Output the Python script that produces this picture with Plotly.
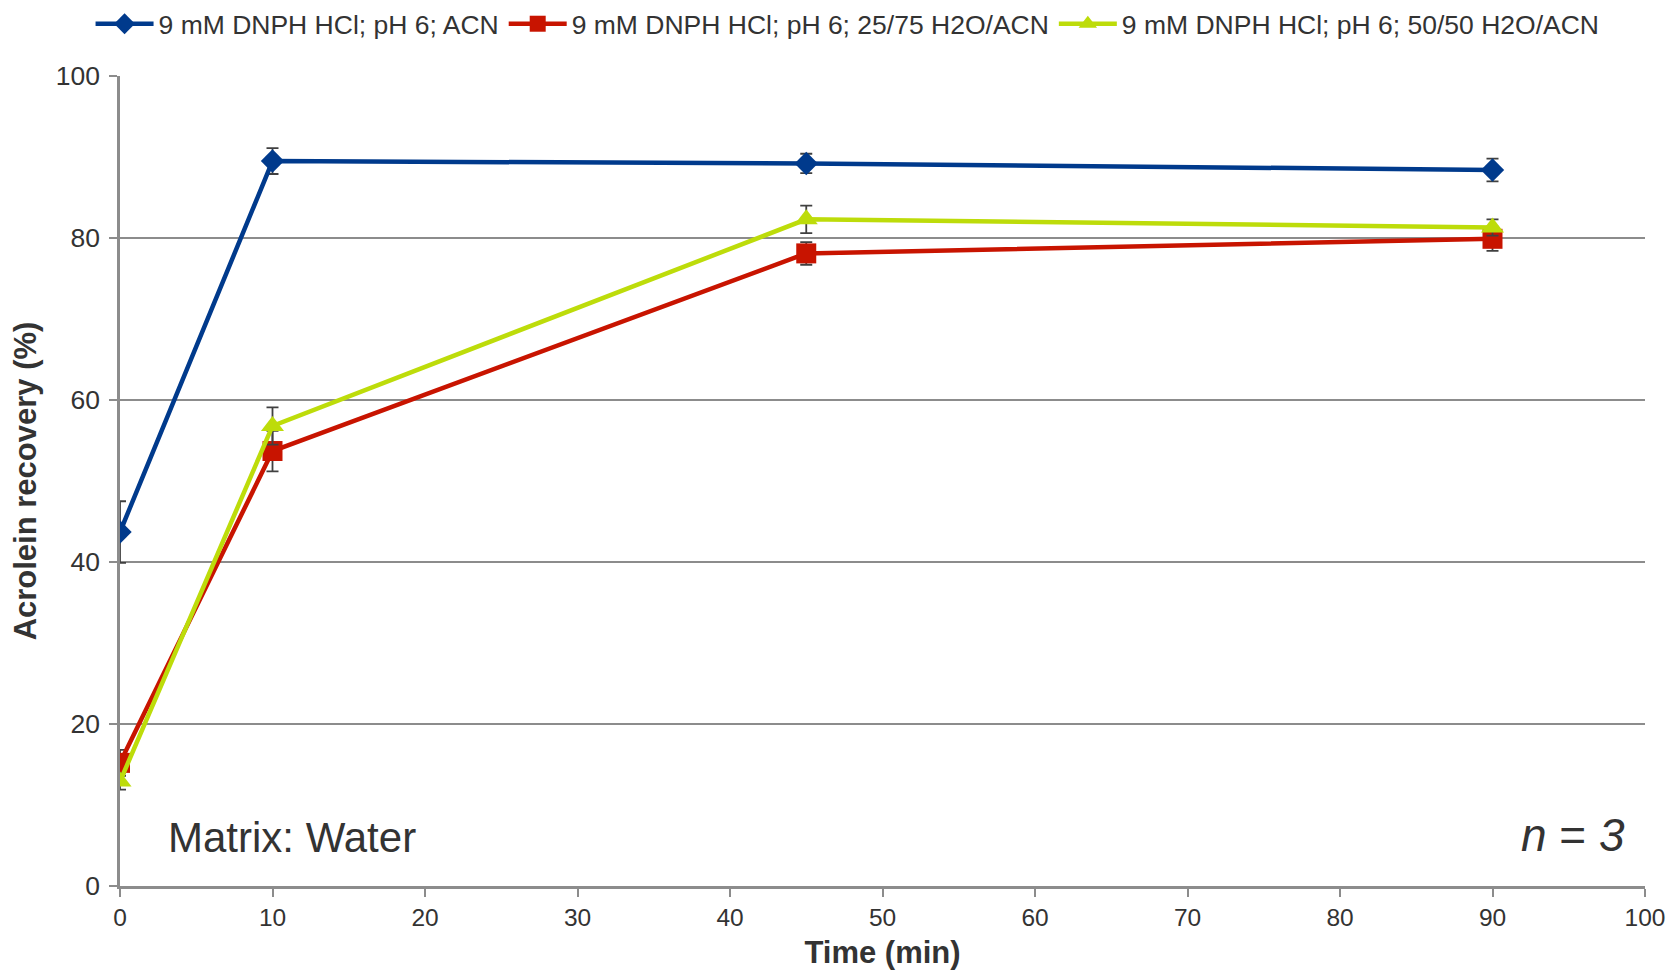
import plotly.graph_objects as go

time_min = [0, 10, 45, 90]
names = ["9 mM DNPH HCl; pH 6; ACN",
         "9 mM DNPH HCl; pH 6; 25/75 H2O/ACN",
         "9 mM DNPH HCl; pH 6; 50/50 H2O/ACN"]
acn = [43.7, 89.5, 89.2, 88.4]
acn_err = [3.8, 1.6, 1.2, 1.4]
h2o_25 = [15.2, 53.7, 78.1, 79.9]
h2o_25_err = [1.6, 2.5, 1.4, 1.5]
h2o_50 = [12.9, 56.8, 82.3, 81.3]
h2o_50_err = [1.0, 2.3, 1.7, 1.0]

colors = ["#003A8C", "#C81400", "#BDDC0A"]
symbols = ["diamond", "square", "triangle-up"]
sizes = [18, 20, 20]
series = [acn, h2o_25, h2o_50]
errs = [acn_err, h2o_25_err, h2o_50_err]

fig = go.Figure()
for name, y, e, c, s, sz in zip(names, series, errs, colors, symbols, sizes):
    fig.add_trace(go.Scatter(
        x=time_min, y=y, name=name, mode="lines+markers",
        line=dict(color=c, width=4.5),
        marker=dict(symbol=s, size=sz, color=c),
        error_y=dict(type="data", array=e, visible=True, color="#404040",
                     thickness=1.8, width=6),
    ))

font = "Liberation Sans, Arial, sans-serif"
fig.update_layout(
    width=1677, height=977,
    margin=dict(l=120, r=25, t=76, b=91),
    paper_bgcolor="white", plot_bgcolor="white",
    font=dict(family=font, size=24, color="#333333"),
    showlegend=True,
    legend=dict(orientation="h", xref="container", yref="container",
                x=0.054, y=1.0, xanchor="left", yanchor="top",
                font=dict(size=26.5, color="#333333"),
                itemwidth=58, tracegroupgap=0, bgcolor="rgba(0,0,0,0)"),
    xaxis=dict(range=[0, 100], tickvals=list(range(0, 101, 10)),
               showgrid=False, zeroline=False,
               showline=True, linecolor="#8C8C8C", linewidth=2.5,
               ticks="outside", ticklen=8, tickwidth=1.5, tickcolor="#8C8C8C",
               tickfont=dict(size=24.5, color="#333333"),
               title=dict(text="<b>Time (min)</b>", font=dict(size=31, color="#333333"),
                          standoff=12)),
    yaxis=dict(range=[0, 100], tickvals=list(range(0, 101, 20)),
               showgrid=True, gridcolor="#8C8C8C", gridwidth=2,
               zeroline=False,
               showline=True, linecolor="#8C8C8C", linewidth=2.5,
               ticks="outside", ticklen=8, tickwidth=1.5, tickcolor="#8C8C8C",
               tickfont=dict(size=26.5, color="#333333"),
               ticklabelstandoff=4,
               title=dict(text="<b>Acrolein recovery (%)</b>", font=dict(size=31, color="#333333"),
                          standoff=10)),
    annotations=[
        dict(text="Matrix: Water", xref="paper", yref="paper", x=0.03, y=0.06,
             xanchor="left", yanchor="middle", showarrow=False,
             font=dict(size=42, color="#333333")),
        dict(text="<i>n</i> = <i>3</i>", xref="paper", yref="paper", x=0.988, y=0.063,
             xanchor="right", yanchor="middle", showarrow=False,
             font=dict(size=46, color="#333333")),
    ],
)

fig.write_html("out.html")
